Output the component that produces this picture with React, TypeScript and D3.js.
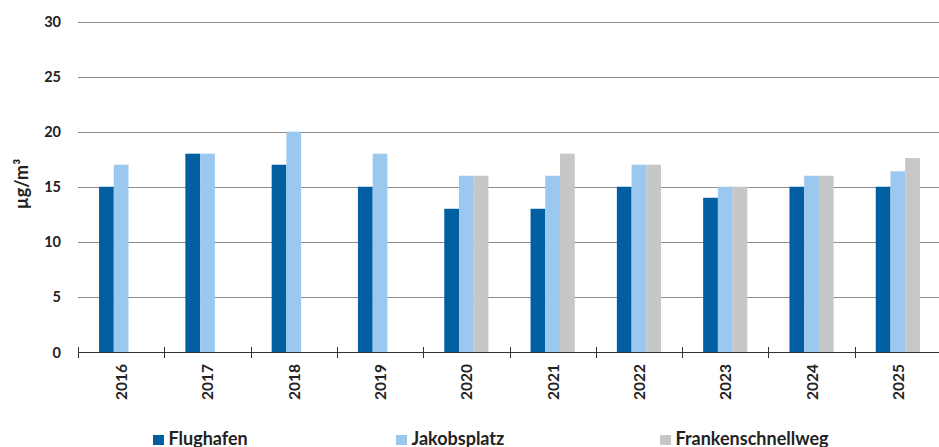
import React from "react";
import * as d3 from "d3";

// Annual mean concentration per measuring station (µg/m³)
const years = ["2016", "2017", "2018", "2019", "2020", "2021", "2022", "2023", "2024", "2025"];
const seriesNames = ["Flughafen", "Jakobsplatz", "Frankenschnellweg"];
const flughafen: (number | null)[] = [15, 18, 17, 15, 13, 13, 15, 14, 15, 15];
const jakobsplatz: (number | null)[] = [17, 18, 20, 18, 16, 16, 17, 15, 16, 16.4];
const frankenschnellweg: (number | null)[] = [null, null, null, null, 16, 18, 17, 15, 16, 17.6];
const yTicks = [0, 5, 10, 15, 20, 25, 30];
const unitLabel = "µg/m³";

const seriesValues = [flughafen, jakobsplatz, frankenschnellweg];
const colors = ["#005EA1", "#9AC8EE", "#C6C7C9"];

const W = 939;
const H = 447;
const plotLeft = 78;
const plotRight = 941;
const plotTop = 21.5;
const plotBottom = 352;
const font = "Lato, 'Open Sans', sans-serif";
const legendX = [153, 396, 660];

export default function App() {
  const x = d3.scaleBand<string>().domain(years).range([plotLeft, plotRight]).padding(0);
  const inner = d3
    .scaleBand<string>()
    .domain(seriesNames)
    .range([0, x.bandwidth()])
    .paddingInner(0)
    .paddingOuter(1.43);
  const y = d3.scaleLinear().domain([0, 30]).range([plotBottom, plotTop]);

  const boundaries = years.map((yr) => x(yr) as number);

  return (
    <svg
      width={W}
      height={H}
      style={{ position: "absolute", left: 0, top: 0, background: "#fff" }}
      fontFamily={font}
    >
      {/* horizontal gridlines */}
      {yTicks
        .filter((t) => t > 0)
        .map((t) => (
          <line
            key={t}
            x1={plotLeft}
            x2={plotRight}
            y1={Math.round(y(t)) + 0.5}
            y2={Math.round(y(t)) + 0.5}
            stroke="#8c8c8c"
            strokeWidth={1}
          />
        ))}

      {/* y tick labels */}
      {yTicks.map((t) => (
        <text
          key={t}
          x={61}
          y={y(t)}
          textAnchor="end"
          dominantBaseline="central"
          fontSize={14.5}
          fontWeight={700}
          fill="#222"
        >
          {t}
        </text>
      ))}

      {/* unit label */}
      <text
        transform={`translate(21,184) rotate(-90)`}
        textAnchor="middle"
        dominantBaseline="central"
        fontSize={18}
        fontWeight={700}
        fill="#222"
      >
        {unitLabel}
      </text>

      {/* bars */}
      {seriesNames.map((name, si) => (
        <g key={name} fill={colors[si]}>
          {years.map((yr, i) => {
            const v = seriesValues[si][i];
            if (v == null) return null;
            const bx = (x(yr) as number) + (inner(name) as number);
            return (
              <rect
                key={yr}
                x={bx}
                y={y(v)}
                width={inner.bandwidth()}
                height={y(0) - y(v)}
              />
            );
          })}
        </g>
      ))}

      {/* baseline and category ticks */}
      <line x1={plotLeft} x2={plotRight} y1={plotBottom + 0.5} y2={plotBottom + 0.5} stroke="#333" strokeWidth={1} />
      {boundaries.map((bx, i) => (
        <line
          key={i}
          x1={Math.round(bx) + 0.5}
          x2={Math.round(bx) + 0.5}
          y1={plotBottom - 5}
          y2={plotBottom + 6}
          stroke="#333"
          strokeWidth={1}
        />
      ))}

      {/* year labels */}
      {years.map((yr) => {
        const cx = (x(yr) as number) + x.bandwidth() / 2;
        return (
          <text
            key={yr}
            transform={`translate(${cx},${plotBottom + 12}) rotate(-90)`}
            textAnchor="end"
            dominantBaseline="central"
            fontSize={15.5}
            fontWeight={700}
            fill="#222"
          >
            {yr}
          </text>
        );
      })}

      {/* legend */}
      {seriesNames.map((name, si) => (
        <g key={name} transform={`translate(${legendX[si]},0)`}>
          <rect x={0} y={435} width={11} height={10} fill={colors[si]} />
          <text x={15.5} y={445} fontSize={18} fontWeight={700} fill="#222">
            {name}
          </text>
        </g>
      ))}
    </svg>
  );
}
